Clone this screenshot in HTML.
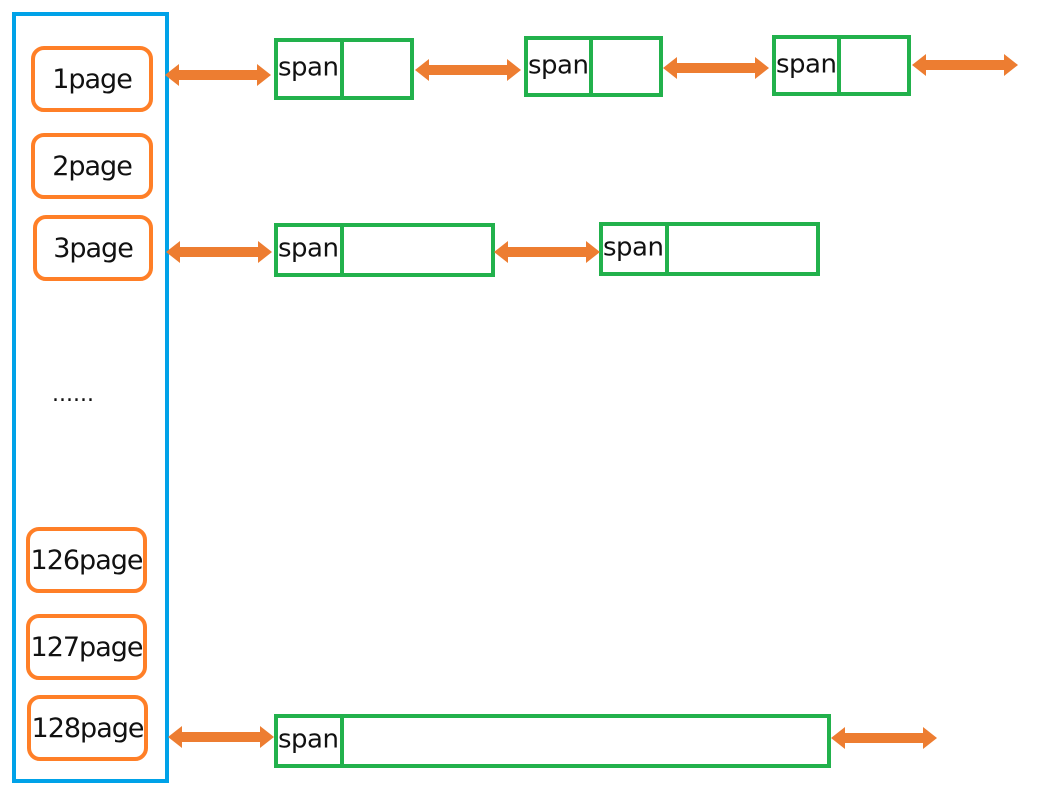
<!DOCTYPE html>
<html><head><style>
html,body{margin:0;padding:0;background:#fff;}
body{width:1052px;height:801px;position:relative;overflow:hidden;font-family:"DejaVu Sans","Liberation Sans",sans-serif;}
.b{position:absolute;box-sizing:border-box;}
.pg{position:absolute;box-sizing:border-box;border:4px solid #ff7f27;border-radius:13px;font-size:27px;color:#111;display:flex;align-items:center;justify-content:center;letter-spacing:-1px;white-space:nowrap;}
.g{position:absolute;box-sizing:border-box;border:4px solid #22b14c;}
.g .d{position:absolute;top:-4px;bottom:-4px;width:4px;background:#22b14c;}
.g .t{position:absolute;left:0px;top:50%;transform:translateY(-55%);font-size:26px;color:#111;letter-spacing:-0.5px;}
svg{position:absolute;left:0;top:0;}
</style></head><body>
<div class="b" style="left:12px;top:12px;width:157px;height:771px;border:4px solid #00a2e8;"></div>
<div class="pg" style="left:31px;top:46px;width:122px;height:66px;">1page</div>
<div class="pg" style="left:31px;top:133px;width:122px;height:66px;">2page</div>
<div class="pg" style="left:33px;top:215px;width:120px;height:66px;">3page</div>
<div style="position:absolute;left:52px;top:382px;font-size:22px;color:#111;">......</div>
<div class="pg" style="left:26px;top:527px;width:121px;height:66px;">126page</div>
<div class="pg" style="left:26px;top:614px;width:121px;height:66px;">127page</div>
<div class="pg" style="left:27px;top:695px;width:121px;height:66px;">128page</div>

<div class="g" style="left:274px;top:38px;width:140px;height:62px;"><div class="d" style="left:62px"></div><div class="t">span</div></div>
<div class="g" style="left:524px;top:36px;width:139px;height:61px;"><div class="d" style="left:61px"></div><div class="t">span</div></div>
<div class="g" style="left:772px;top:35px;width:139px;height:61px;"><div class="d" style="left:61px"></div><div class="t">span</div></div>
<div class="g" style="left:274px;top:223px;width:221px;height:54px;"><div class="d" style="left:62px"></div><div class="t">span</div></div>
<div class="g" style="left:599px;top:222px;width:221px;height:54px;"><div class="d" style="left:62px"></div><div class="t">span</div></div>
<div class="g" style="left:274px;top:714px;width:557px;height:54px;"><div class="d" style="left:62px"></div><div class="t">span</div></div>

<svg width="1052" height="801">
<defs><g id="ar"><polygon points="0,0 14,-11 14,-5 92,-5 92,-11 106,0 92,11 92,5 14,5 14,11" fill="#ed7d31"/></g></defs>
<use href="#ar" x="165" y="75"/>
<use href="#ar" x="415" y="70"/>
<use href="#ar" x="663" y="68"/>
<use href="#ar" x="912" y="65"/>
<use href="#ar" x="166" y="252"/>
<use href="#ar" x="494" y="252"/>
<use href="#ar" x="168" y="737"/>
<use href="#ar" x="831" y="738"/>
</svg>
</body></html>
